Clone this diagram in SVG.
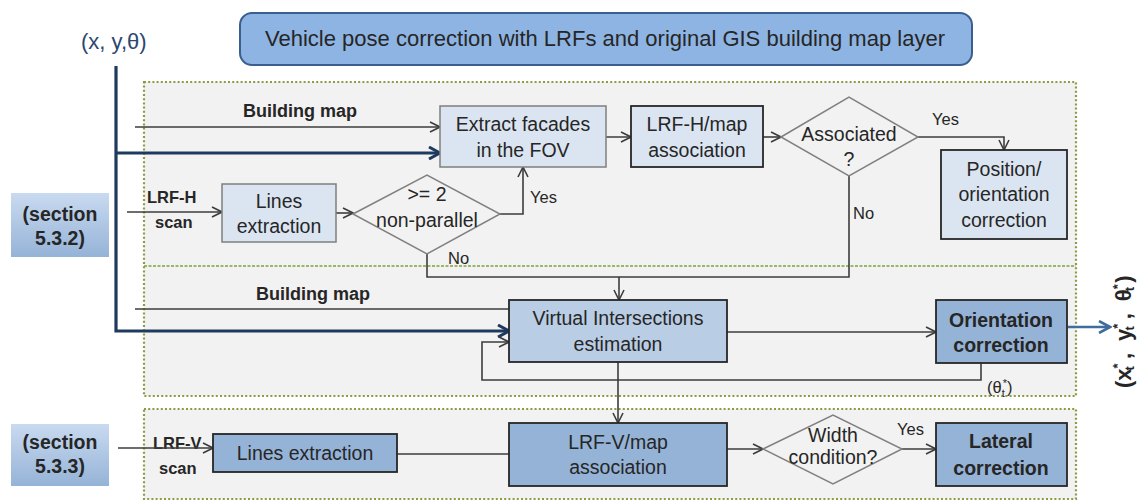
<svg xmlns="http://www.w3.org/2000/svg" width="1139" height="502" viewBox="0 0 1139 502">
<defs>
<style>
text{font-family:"Liberation Sans",Arial,sans-serif;fill:#262626;}
.t{font-size:19.5px;text-anchor:middle;}
.b{font-weight:bold;}
.lab{font-size:16.5px;}
.c{fill:none;stroke:#3c3c3c;stroke-width:1.6;}
.ck{fill:none;stroke:#1f3a5f;stroke-width:3.2;}
.lb{fill:#dbe5f1;stroke:#7f7f7f;stroke-width:1.5;}
.lbd{fill:#dbe5f1;stroke:#262626;stroke-width:1.8;}
.mb{fill:#b9cde5;stroke:#262626;stroke-width:1.8;}
.db{fill:#95b3d7;stroke:#262626;stroke-width:1.8;}
.dm{fill:none;stroke:#808080;stroke-width:1.5;}
.dot{fill:#f2f2f2;stroke:#8f9a45;stroke-width:2.2;stroke-dasharray:2 2.2;}
</style>
<marker id="a" viewBox="0 0 12 12" refX="11" refY="6" markerWidth="12" markerHeight="12" markerUnits="userSpaceOnUse" orient="auto">
<path d="M1,1 L11,6 L1,11" fill="none" stroke="#3c3c3c" stroke-width="1.6"/>
</marker>
<marker id="ak" viewBox="0 0 14 14" refX="12" refY="7" markerWidth="14" markerHeight="14" markerUnits="userSpaceOnUse" orient="auto">
<path d="M1,1 L12,7 L1,13" fill="none" stroke="#1f3a5f" stroke-width="3"/>
</marker>
<marker id="ab" viewBox="0 0 14 14" refX="12" refY="7" markerWidth="14" markerHeight="14" markerUnits="userSpaceOnUse" orient="auto">
<path d="M1,1 L12,7 L1,13" fill="none" stroke="#3f6e9e" stroke-width="2.6"/>
</marker>
<linearGradient id="sg" x1="0" y1="0" x2="0" y2="1">
<stop offset="0" stop-color="#c9daf0"/>
<stop offset="1" stop-color="#95b3d7"/>
</linearGradient>
</defs>
<rect width="1139" height="502" fill="#ffffff"/>

<g id="frames">
<rect class="dot" x="144" y="82" width="932" height="314"/>
<line x1="144" y1="266" x2="1076" y2="266" stroke="#7fa33f" stroke-width="1.5" stroke-dasharray="3 1.5"/>
<rect class="dot" x="144" y="409" width="932" height="90"/>
</g>

<g id="title">
<rect x="240" y="13" width="732" height="52" rx="12" fill="#8eb4e3" stroke="#3a5f8f" stroke-width="2"/>
<text class="t" x="605" y="46" style="font-size:22px">Vehicle pose correction with LRFs and original GIS building map layer</text>
</g>

<g id="pose-input">
<text x="81" y="49" style="font-size:22px;fill:#2c4770">(x, y,θ)</text>
</g>

<g id="section-532">
<rect x="11" y="193" width="98" height="64" fill="url(#sg)"/>
<text class="t b" x="60" y="221">(section</text>
<text class="t b" x="60" y="245">5.3.2)</text>
</g>
<g id="section-533">
<rect x="11" y="424" width="98" height="62" fill="url(#sg)"/>
<text class="t b" x="60" y="449">(section</text>
<text class="t b" x="60" y="473">5.3.3)</text>
</g>

<g id="labels">
<text class="b" x="243" y="117" style="font-size:18px">Building map</text>
<text class="b" x="256" y="300" style="font-size:18px">Building map</text>
<text class="b lab" x="147" y="203">LRF-H</text>
<text class="b lab" x="155" y="228">scan</text>
<text class="b lab" x="153" y="449">LRF-V</text>
<text class="b lab" x="159" y="474">scan</text>
<text class="lab" x="530" y="203">Yes</text>
<text class="lab" x="448" y="264">No</text>
<text class="lab" x="932" y="125">Yes</text>
<text class="lab" x="853" y="219">No</text>
<text class="lab" x="897" y="435">Yes</text>
<text class="lab" x="987" y="393">(θ<tspan dy="4" font-size="11">t</tspan><tspan dx="-2" dy="-10" font-size="11">*</tspan><tspan dy="6">)</tspan></text>
</g>

<g id="connectors">
<path class="c" d="M135,127 H440" marker-end="url(#a)"/>
<path class="ck" d="M116,66 V331 H509" marker-end="url(#ak)"/>
<path class="ck" d="M116,153 H440" marker-end="url(#ak)"/>
<path class="c" d="M580,137 H631" marker-end="url(#a)"/>
<path class="c" d="M763,137 H781" marker-end="url(#a)"/>
<path class="c" d="M918,137 H1004 V150" marker-end="url(#a)"/>
<path class="c" d="M849,176 V277 H427 V254"/>
<path class="c" d="M619,277 V300" marker-end="url(#a)"/>
<path class="c" d="M127,212 H222" marker-end="url(#a)"/>
<path class="c" d="M336,213 H353" marker-end="url(#a)"/>
<path class="c" d="M500,214 H523 V167" marker-end="url(#a)"/>
<path class="c" d="M135,309 H509"/>
<path class="c" d="M727,332 H936" marker-end="url(#a)"/>
<path class="c" d="M981,363 V380 H482 V342 H509" marker-end="url(#a)"/>
<path class="c" d="M618,362 V423" marker-end="url(#a)"/>
<path class="c" d="M118,448 H213" marker-end="url(#a)"/>
<path class="c" d="M397,454 H535" marker-end="url(#a)"/>
<path class="c" d="M727,449 H763" marker-end="url(#a)"/>
<path class="c" d="M902,449 H936" marker-end="url(#a)"/>
<path d="M1068,327 H1110" fill="none" stroke="#3f6e9e" stroke-width="2.6" marker-end="url(#ab)"/>
</g>

<g id="extract-facades">
<rect class="lb" x="440" y="106" width="166" height="61"/>
<text class="t" x="523" y="131">Extract facades</text>
<text class="t" x="523" y="157">in the FOV</text>
</g>
<g id="lrfh-map">
<rect class="lbd" x="631" y="106" width="132" height="61"/>
<text class="t" x="697" y="131">LRF-H/map</text>
<text class="t" x="697" y="157">association</text>
</g>
<g id="associated">
<polygon class="dm" points="781,137 849,97 918,137 849,176"/>
<text class="t" x="849" y="141">Associated</text>
<text class="t" x="849" y="166">?</text>
</g>
<g id="position-orientation">
<rect class="lbd" x="941" y="150" width="126" height="89"/>
<text class="t" x="1004" y="176">Position/</text>
<text class="t" x="1004" y="201">orientation</text>
<text class="t" x="1004" y="227">correction</text>
</g>
<g id="lines-extraction-h">
<rect class="lb" x="222" y="184" width="114" height="58"/>
<text class="t" x="279" y="208">Lines</text>
<text class="t" x="279" y="233">extraction</text>
</g>
<g id="non-parallel">
<polygon class="dm" points="353,214 427,175 500,214 427,254"/>
<text class="t" x="427" y="201">&gt;= 2</text>
<text class="t" x="427" y="227">non-parallel</text>
</g>
<g id="virtual-intersections">
<rect class="mb" x="509" y="300" width="218" height="62"/>
<text class="t" x="618" y="325">Virtual Intersections</text>
<text class="t" x="618" y="351">estimation</text>
</g>
<g id="orientation-correction">
<rect class="db" x="936" y="300" width="131" height="63"/>
<text class="t b" x="1001" y="327">Orientation</text>
<text class="t b" x="1001" y="352">correction</text>
</g>
<g id="lines-extraction-v">
<rect class="db" x="213" y="434" width="184" height="38"/>
<text class="t" x="305" y="460">Lines extraction</text>
</g>
<g id="lrfv-map">
<rect class="db" x="509" y="423" width="218" height="63"/>
<text class="t" x="618" y="449">LRF-V/map</text>
<text class="t" x="618" y="474">association</text>
</g>
<g id="width-condition">
<polygon class="dm" points="763,449 833,415 902,449 833,484"/>
<text class="t" x="833" y="442">Width</text>
<text class="t" x="833" y="464">condition?</text>
</g>
<g id="lateral-correction">
<rect class="db" x="936" y="423" width="131" height="63"/>
<text class="t b" x="1001" y="448">Lateral</text>
<text class="t b" x="1001" y="475">correction</text>
</g>

<g id="pose-output">
<text class="b" transform="translate(1131,388) rotate(-90)" style="font-size:22px">(x<tspan dy="-9" font-size="13">*</tspan><tspan dx="-7" dy="12" font-size="13">t</tspan><tspan dx="7" dy="-3">,</tspan><tspan dx="12">y</tspan><tspan dy="-9" font-size="13">*</tspan><tspan dx="-7" dy="12" font-size="13">t</tspan><tspan dx="7" dy="-3">,</tspan><tspan dx="12">θ</tspan><tspan dy="-9" font-size="13">*</tspan><tspan dx="-7" dy="12" font-size="13">t</tspan><tspan dx="4" dy="-3">)</tspan></text>
</g>
</svg>
